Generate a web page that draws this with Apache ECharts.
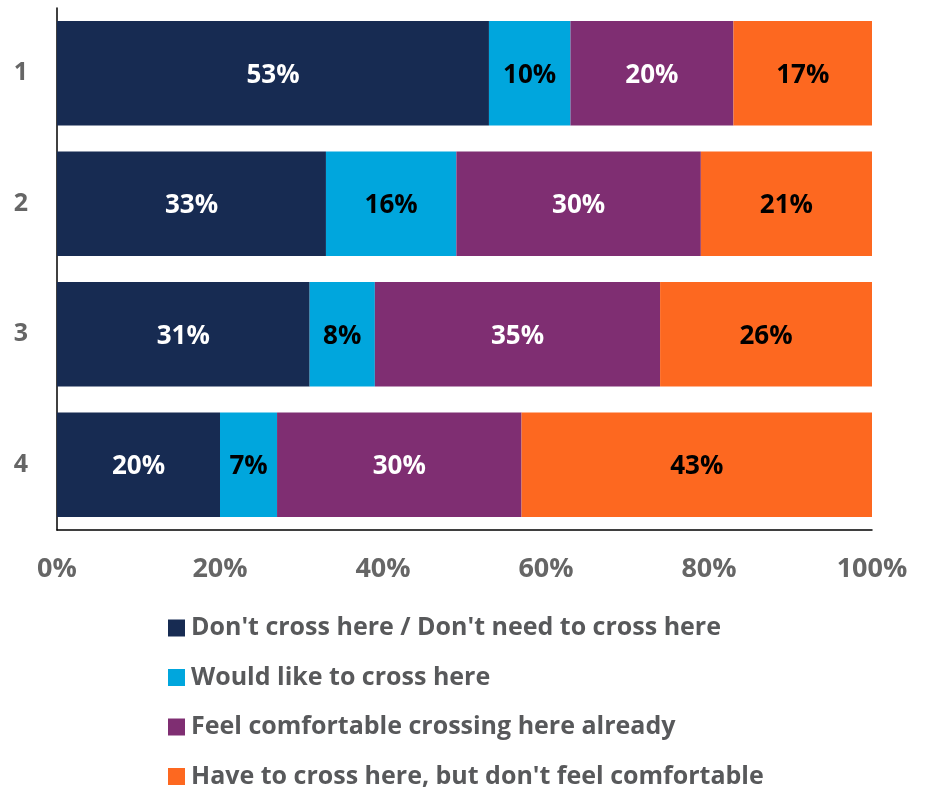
<!DOCTYPE html>
<html>
<head>
<meta charset="utf-8">
<script src="https://cdn.jsdelivr.net/npm/echarts@6/dist/echarts.min.js"></script>
<style>html,body{margin:0;padding:0;background:#fff}#chart{width:928px;height:790px}</style>
</head>
<body>
<div id="chart"></div>
<script>
const categories = ['1', '2', '3', '4'];
const seriesNames = [
  "Don't cross here / Don't need to cross here",
  'Would like to cross here',
  'Feel comfortable crossing here already',
  "Have to cross here, but don't feel comfortable"
];
const dontCross = [53, 33, 31, 20];
const wouldLike = [10, 16, 8, 7];
const comfortable = [20, 30, 35, 30];
const uncomfortable = [17, 21, 26, 43];
const xTicks = [0, 20, 40, 60, 80, 100];

const colors = ['#172b52', '#00a6dd', '#7f2e72', '#fd6820'];
const labelColors = ['#ffffff', '#000000', '#ffffff', '#000000'];
const font = '"Open Sans", sans-serif';
const allData = [dontCross, wouldLike, comfortable, uncomfortable];

const chart = echarts.init(document.getElementById('chart'));
chart.setOption({
  animation: false,
  grid: { left: 57, right: 56, top: 8, bottom: 260, containLabel: false },
  legend: {
    orient: 'vertical',
    left: 168,
    top: 615,
    padding: 0,
    icon: 'rect',
    itemWidth: 17,
    itemHeight: 17,
    itemGap: 23.5,
    data: seriesNames,
    textStyle: { fontFamily: font, fontWeight: 'bold', fontSize: 25, color: '#58595b', lineHeight: 26, padding: [0, 0, 0, 1] }
  },
  xAxis: {
    type: 'value',
    min: xTicks[0],
    max: xTicks[xTicks.length - 1],
    interval: 20,
    splitLine: { show: false },
    axisTick: { show: false },
    axisLine: { show: true, lineStyle: { color: '#000', width: 1.5 } },
    axisLabel: { formatter: '{value}%', fontFamily: font, fontWeight: 'bold', fontSize: 27, color: '#666666', margin: 26 }
  },
  yAxis: {
    type: 'category',
    inverse: true,
    data: categories,
    axisTick: { show: false },
    axisLine: { show: true, lineStyle: { color: '#000', width: 1.5 } },
    axisLabel: { fontFamily: font, fontWeight: 'bold', fontSize: 25, color: '#666666', margin: 29 }
  },
  series: seriesNames.map((name, i) => ({
    name,
    type: 'bar',
    stack: 'total',
    barCategoryGap: '20%',
    data: allData[i],
    itemStyle: { color: colors[i] },
    label: {
      show: true,
      position: 'inside',
      offset: [0, 2],
      formatter: '{c}%',
      fontFamily: font,
      fontWeight: 'bold',
      fontSize: 26,
      color: labelColors[i]
    }
  }))
});
</script>
</body>
</html>
